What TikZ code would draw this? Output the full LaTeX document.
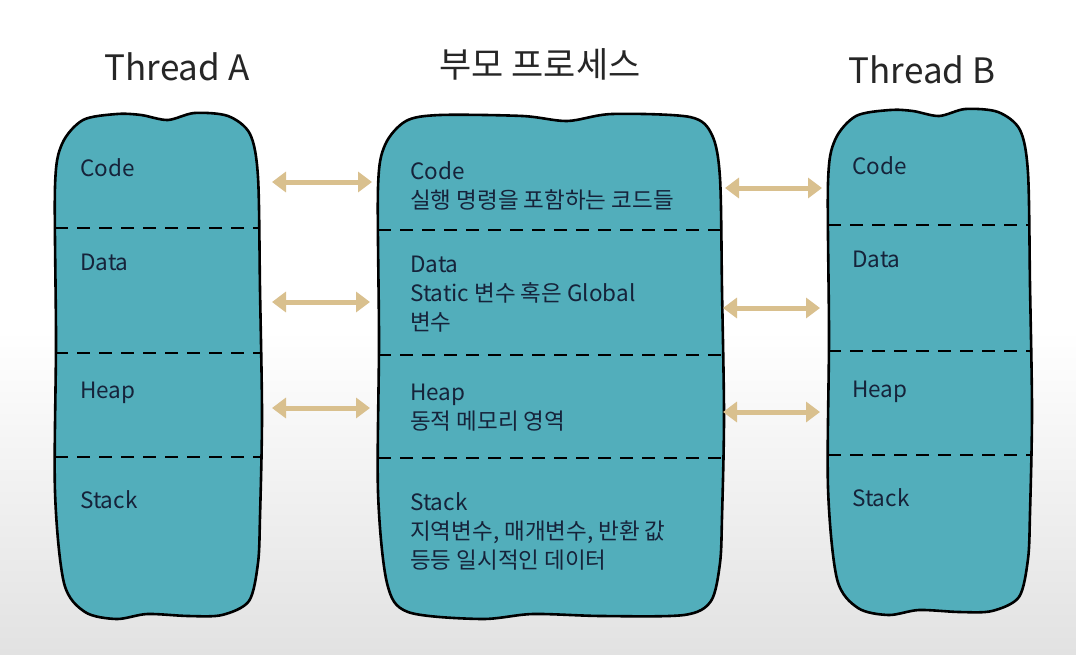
\documentclass[tikz,border=0pt]{standalone}
\usepackage{fontspec}
\setmainfont{Noto Sans CJK KR}
\usepackage{xcolor}
\usetikzlibrary{arrows.meta, positioning}
\definecolor{tealfill}{HTML}{52AEBB}
\definecolor{tanarrow}{HTML}{D9C08E}
\definecolor{inktext}{HTML}{16233A}
\definecolor{bggray}{HTML}{E2E2E2}
\newcommand{\handbox}[4]{%
  \filldraw[boxline] plot[smooth cycle, tension=0.5] coordinates {
    ({#1},{#2+75}) ({#1+7},{#2+32}) ({#1+28},{#2+8}) ({#1+62},{#2+2})
    ({#1+.42*(#3-#1)},{#2+3}) ({#1+.55*(#3-#1)},{#2+8}) ({#1+.68*(#3-#1)},{#2+1})
    ({#3-32},{#2+4}) ({#3-10},{#2+22}) ({#3-2},{#2+65})
    ({#3},{#2+.35*(#4-#2)}) ({#3+2},{#2+.6*(#4-#2)}) ({#3},{#2+.8*(#4-#2)})
    ({#3-2},{#4-55}) ({#3-11},{#4-17}) ({#3-38},{#4-3})
    ({#1+.65*(#3-#1)},{#4-2}) ({#1+.45*(#3-#1)},{#4-4}) ({#1+.3*(#3-#1)},{#4+1})
    ({#1+30},{#4-6}) ({#1+9},{#4-35})
    ({#1},{#2+.75*(#4-#2)}) ({#1+1},{#2+.45*(#4-#2)})};
}
\begin{document}
\begin{tikzpicture}[x=1pt, y=-1pt]
\tikzset{boxline/.style={fill=tealfill, draw=black, line width=2.6pt},
  cut/.style={draw=black, line width=2.8pt, dash pattern=on 13pt off 9pt},
  title/.style={font=\fontsize{35}{40}\selectfont, text=black!85, anchor=base},
  seg/.style={font=\fontsize{22.5}{29}\selectfont, text=inktext, anchor=base west, align=left, inner sep=0pt},
  share/.style={{Triangle[length=14pt, width=20pt]}-{Triangle[length=14pt, width=20pt]}, draw=tanarrow, line width=5pt}}
\fill[white] (0,0) rectangle (1076,330);
\shade[top color=white, bottom color=bggray] (0,330) rectangle (1076,654);
\useasboundingbox (0,0) rectangle (1076,654);
\node[title] (ta) at (177,80) {Thread A};
\node[title] (pp) at (540,77) {부모 프로세스};
\node[title] (tb) at (922,83) {Thread B};
\handbox{55}{112}{260}{618}
\handbox{378}{113}{722}{618}
\handbox{828}{108}{1030}{614}
\draw[cut] (55,228) -- (260,228);
\draw[cut] (55,353) -- (260,353);
\draw[cut] (55,457) -- (260,457);
\draw[cut] (378,230) -- (722,230);
\draw[cut] (378,355) -- (722,355);
\draw[cut] (378,458) -- (722,458);
\draw[cut] (828,225) -- (1030,225);
\draw[cut] (828,351) -- (1030,351);
\draw[cut] (828,455) -- (1030,455);
\node[seg] (acode) at (80,176) {Code};
\node[seg] (adata) at (80,270) {Data};
\node[seg] (aheap) at (80,398) {Heap};
\node[seg] (astack) at (80,508) {Stack};
\node[seg] (pcode) at (410,208) {Code\\실행 명령을 포함하는 코드들};
\node[seg] (pdata) at (410,330) {Data\\Static 변수 혹은 Global\\변수};
\node[seg] (pheap) at (410,429) {Heap\\동적 메모리 영역};
\node[seg] (pstack) at (410,568) {Stack\\지역변수, 매개변수, 반환 값\\등등 일시적인 데이터};
\node[seg] (bcode) at (852,174) {Code};
\node[seg] (bdata) at (852,267) {Data};
\node[seg] (bheap) at (852,397) {Heap};
\node[seg] (bstack) at (852,506) {Stack};
\coordinate (la1) at (272,182); \coordinate (lp1) at (372,182);
\coordinate (la2) at (272,302); \coordinate (lp2) at (370,302);
\coordinate (la3) at (272,408); \coordinate (lp3) at (370,408);
\coordinate (rp1) at (725,188); \coordinate (rb1) at (822,188);
\coordinate (rp2) at (723,308); \coordinate (rb2) at (820,308);
\coordinate (rp3) at (723,412); \coordinate (rb3) at (820,412);
\draw[share] (la1) -- (lp1);
\draw[share] (la2) -- (lp2);
\draw[share] (la3) -- (lp3);
\draw[share] (rp1) -- (rb1);
\draw[share] (rp2) -- (rb2);
\draw[share] (rp3) -- (rb3);
\end{tikzpicture}
\end{document}
